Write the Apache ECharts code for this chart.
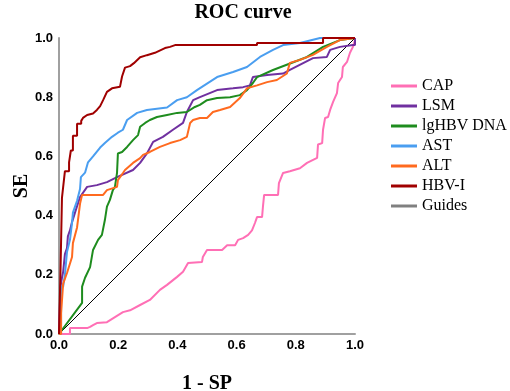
<!DOCTYPE html>
<html>
<head>
<meta charset="utf-8">
<script src="https://cdn.jsdelivr.net/npm/echarts@6/dist/echarts.min.js"></script>
<style>
  html, body { margin: 0; padding: 0; background: #fff; }
  #chart { width: 510px; height: 391px; }
</style>
</head>
<body>
<div id="chart"></div>
<script>
var seriesNames = ['CAP', 'LSM', 'lgHBV DNA', 'AST', 'ALT', 'HBV-I', 'Guides'];
var axisTicks = [0, 0.2, 0.4, 0.6, 0.8, 1.0];

// [1 - SP, SE] points
var cap = [[0,0],[0.037,0],[0.037,0.02],[0.095,0.02],[0.105,0.024],[0.115,0.03],[0.128,0.037],[0.162,0.04],[0.189,0.057],[0.216,0.074],[0.240,0.08],[0.274,0.098],[0.307,0.115],[0.341,0.149],[0.365,0.166],[0.399,0.193],[0.419,0.21],[0.436,0.24],[0.483,0.243],[0.486,0.26],[0.5,0.284],[0.551,0.284],[0.568,0.30],[0.595,0.30],[0.605,0.318],[0.622,0.324],[0.639,0.335],[0.652,0.35],[0.662,0.375],[0.669,0.395],[0.686,0.395],[0.689,0.43],[0.693,0.47],[0.740,0.47],[0.743,0.51],[0.757,0.544],[0.780,0.550],[0.797,0.555],[0.814,0.56],[0.838,0.578],[0.872,0.595],[0.875,0.64],[0.889,0.645],[0.892,0.69],[0.899,0.73],[0.909,0.733],[0.916,0.757],[0.926,0.784],[0.939,0.814],[0.943,0.848],[0.956,0.868],[0.959,0.902],[0.973,0.919],[0.983,0.95],[0.993,0.97],[1,0.993],[1,1]];
var lsm = [[0,0],[0.005,0],[0.005,0.16],[0.01,0.19],[0.014,0.21],[0.02,0.27],[0.027,0.29],[0.03,0.33],[0.037,0.35],[0.044,0.378],[0.054,0.41],[0.071,0.463],[0.095,0.497],[0.128,0.503],[0.162,0.513],[0.196,0.53],[0.250,0.554],[0.274,0.578],[0.297,0.61],[0.318,0.649],[0.351,0.666],[0.385,0.69],[0.419,0.713],[0.432,0.75],[0.453,0.79],[0.476,0.80],[0.534,0.824],[0.588,0.83],[0.622,0.834],[0.645,0.84],[0.655,0.868],[0.703,0.875],[0.757,0.88],[0.780,0.892],[0.858,0.932],[0.905,0.936],[0.916,0.96],[0.949,0.97],[0.993,0.976],[1,0.976],[1,1]];
var hbvDna = [[0,0],[0.078,0.105],[0.078,0.16],[0.088,0.19],[0.105,0.226],[0.115,0.284],[0.132,0.318],[0.145,0.335],[0.155,0.385],[0.162,0.43],[0.172,0.453],[0.182,0.486],[0.189,0.497],[0.196,0.544],[0.199,0.61],[0.213,0.615],[0.230,0.632],[0.250,0.655],[0.267,0.672],[0.274,0.70],[0.291,0.713],[0.307,0.723],[0.331,0.733],[0.365,0.74],[0.399,0.747],[0.432,0.75],[0.459,0.767],[0.476,0.774],[0.500,0.79],[0.534,0.797],[0.578,0.80],[0.611,0.807],[0.635,0.824],[0.655,0.848],[0.669,0.868],[0.723,0.892],[0.838,0.936],[0.892,0.97],[0.949,0.993],[1,1]];
var ast = [[0,0],[0.007,0],[0.007,0.16],[0.014,0.16],[0.02,0.20],[0.027,0.277],[0.037,0.318],[0.044,0.375],[0.047,0.41],[0.061,0.45],[0.071,0.49],[0.074,0.53],[0.088,0.545],[0.098,0.58],[0.115,0.60],[0.139,0.63],[0.155,0.645],[0.179,0.666],[0.199,0.68],[0.216,0.69],[0.230,0.723],[0.264,0.747],[0.297,0.757],[0.365,0.765],[0.399,0.79],[0.432,0.80],[0.466,0.824],[0.534,0.868],[0.588,0.885],[0.635,0.902],[0.679,0.936],[0.723,0.96],[0.757,0.976],[0.814,0.983],[0.882,1],[1,1]];
var alt = [[0,0],[0.007,0],[0.007,0.07],[0.014,0.17],[0.027,0.206],[0.044,0.26],[0.047,0.307],[0.061,0.36],[0.071,0.44],[0.078,0.47],[0.149,0.47],[0.162,0.486],[0.196,0.497],[0.199,0.52],[0.216,0.544],[0.223,0.554],[0.250,0.578],[0.274,0.594],[0.284,0.605],[0.307,0.615],[0.341,0.632],[0.375,0.645],[0.409,0.655],[0.432,0.666],[0.443,0.713],[0.453,0.723],[0.476,0.73],[0.500,0.73],[0.520,0.75],[0.544,0.757],[0.578,0.767],[0.611,0.797],[0.635,0.83],[0.669,0.84],[0.703,0.851],[0.736,0.858],[0.770,0.88],[0.780,0.916],[0.814,0.926],[0.858,0.943],[0.905,0.97],[0.949,0.993],[1,1]];
var hbvI = [[0,0],[0.005,0],[0.005,0.21],[0.01,0.21],[0.01,0.46],[0.014,0.46],[0.02,0.55],[0.034,0.55],[0.034,0.58],[0.04,0.58],[0.04,0.62],[0.047,0.62],[0.047,0.67],[0.061,0.67],[0.061,0.71],[0.075,0.71],[0.075,0.72],[0.081,0.72],[0.081,0.73],[0.095,0.74],[0.115,0.745],[0.128,0.757],[0.139,0.77],[0.149,0.79],[0.162,0.818],[0.179,0.83],[0.206,0.835],[0.213,0.87],[0.223,0.90],[0.240,0.905],[0.253,0.915],[0.274,0.935],[0.297,0.942],[0.324,0.95],[0.358,0.966],[0.375,0.97],[0.392,0.976],[0.669,0.976],[0.669,0.983],[0.892,0.983],[0.892,1],[1,1]];
var guides = [[0,0],[1,1]];

var colors = ['#ff6fb5', '#7030a0', '#1e8c1e', '#4a9ef0', '#ff6a1f', '#a00000', '#808080'];
var seriesData = [cap, lsm, hbvDna, ast, alt, hbvI, guides];

var chart = echarts.init(document.getElementById('chart'));

var series = [];
seriesNames.forEach(function (name, i) {
  series.push({
    name: name,
    type: 'line',
    data: seriesData[i],
    symbol: 'none',
    silent: true,
    animation: false,
    color: colors[i],
    lineStyle: {
      width: name === 'Guides' ? 1 : 2,
      color: name === 'Guides' ? '#000' : colors[i]
    },
    z: name === 'Guides' ? 1 : 2 + i
  });
});

var tickLabel = { fontFamily: 'Liberation Sans', fontWeight: 'bold', fontSize: 13, color: '#000' };
var nameFont = { fontFamily: 'Liberation Serif', fontWeight: 'bold', fontSize: 20, color: '#000' };

var option = {
  backgroundColor: '#fff',
  animation: false,
  title: {
    text: 'ROC curve',
    left: 238,
    top: -2,
    textAlign: 'center',
    textStyle: { fontFamily: 'Liberation Serif', fontWeight: 'bold', fontSize: 20, color: '#000' }
  },
  legend: {
    orient: 'vertical',
    left: 386,
    top: 73,
    icon: 'rect',
    itemWidth: 26,
    itemHeight: 3,
    itemGap: 4,
    data: seriesNames,
    textStyle: { fontFamily: 'Liberation Serif', fontSize: 16, color: '#000' }
  },
  grid: { left: 59, right: 155, top: 38, bottom: 57, outerBoundsMode: 'none' },
  xAxis: {
    type: 'value',
    min: 0, max: 1, interval: 0.2,
    name: '1 - SP',
    nameLocation: 'middle',
    nameGap: 40,
    nameMoveOverlap: false,
    nameTextStyle: nameFont,
    axisLine: { show: true, lineStyle: { color: '#a0a0a0', width: 2 } },
    axisTick: { show: false },
    splitLine: { show: false },
    axisLabel: Object.assign({ margin: 5, formatter: function (v) { return v.toFixed(1); } }, tickLabel)
  },
  yAxis: {
    type: 'value',
    min: 0, max: 1, interval: 0.2,
    name: 'SE',
    nameLocation: 'middle',
    nameGap: 27,
    nameMoveOverlap: false,
    nameTextStyle: nameFont,
    axisLine: { show: true, lineStyle: { color: '#a0a0a0', width: 2 } },
    axisTick: { show: false },
    splitLine: { show: false },
    axisLabel: Object.assign({ margin: 6, formatter: function (v) { return v.toFixed(1); } }, tickLabel)
  },
  series: series
};

chart.setOption(option);
</script>
</body>
</html>
